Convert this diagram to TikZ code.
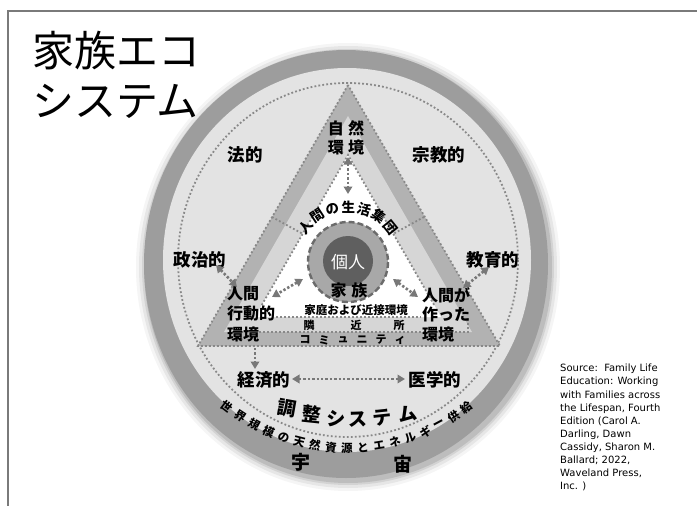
\documentclass[tikz,border=0pt]{standalone}
\usepackage{fontspec}
\newfontfamily\jp{Noto Sans CJK JP}
\newfontfamily\srcfont{DejaVu Sans}
\usetikzlibrary{arrows.meta}
\definecolor{ringgray}{HTML}{9D9D9D}
\definecolor{lightbg}{HTML}{E3E3E3}
\definecolor{tmed}{HTML}{B2B2B2}
\definecolor{tlight}{HTML}{D6D6D6}
\definecolor{dotgray}{HTML}{888888}
\definecolor{arrgray}{HTML}{787878}
\definecolor{famring}{HTML}{A8A8A8}
\definecolor{indiv}{HTML}{5F5F5F}
\definecolor{framegray}{HTML}{7A7A7A}
\begin{document}
\begin{tikzpicture}[x=1pt,y=-1pt,
  dotln/.style={draw=dotgray,line width=1.8pt,dash pattern=on 1.8pt off 2.2pt},
  darr/.style={draw=arrgray,line width=2.6pt,dash pattern=on 2.4pt off 2pt,
    {Triangle[length=7.5pt,width=8.5pt]}-{Triangle[length=7.5pt,width=8.5pt]}},
  sarr/.style={draw=arrgray,line width=2.6pt,dash pattern=on 2.4pt off 2pt,
    -{Triangle[length=7.5pt,width=8.5pt]}},
  lab/.style={inner sep=0pt,font=\jp\bfseries\fontsize{17.5}{17.5}\selectfont},
  mid/.style={inner sep=0pt,font=\jp\bfseries\fontsize{16}{16}\selectfont},
  small/.style={inner sep=0pt,font=\jp\bfseries\fontsize{11.5}{11.5}\selectfont},
  tiny/.style={inner sep=0pt,font=\jp\bfseries\fontsize{11}{11}\selectfont},
  arcch/.style={inner sep=0pt,font=\jp\bfseries\fontsize{13.5}{13.5}\selectfont},
  wch/.style={inner sep=0pt,font=\jp\bfseries\fontsize{11.5}{11.5}\selectfont},
  chou/.style={inner sep=0pt,font=\jp\bfseries\fontsize{19}{19}\selectfont},
  titlef/.style={inner sep=0pt,anchor=west,font=\jp\fontsize{42}{42}\selectfont},
]
\useasboundingbox (0,0) rectangle (697,506);
\fill[white] (0,0) rectangle (697,506);
% frame
\draw[framegray,line width=1.6pt] (8,530) -- (8,11) -- (720,11);

% soft shadow
\foreach \k/\op in {10/0.04,7/0.06,4/0.08,2/0.1}
  \fill[black,opacity=\op] (348,267) ellipse [x radius={202+\k}, y radius={214+\k}];
% ring and inner field
\fill[ringgray] (346,264) ellipse [x radius=202, y radius=214];
\fill[lightbg] (347,260) ellipse [x radius=184, y radius=192];
\draw[dotln] (348,260) ellipse [x radius=170, y radius=177];

% triangles
\coordinate (A1) at (348,85);  \coordinate (L1) at (198,346); \coordinate (R1) at (500,346);
\coordinate (A2) at (348,116); \coordinate (L2) at (224,332); \coordinate (R2) at (472,332);
\coordinate (A3) at (348,155); \coordinate (L3) at (255,317); \coordinate (R3) at (441,317);
\fill[tmed] (A1) -- (L1) -- (R1) -- cycle;
\fill[tlight] (A2) -- (L2) -- (R2) -- cycle;
\fill[white] (A3) -- (L3) -- (R3) -- cycle;
\draw[dotln] (A1) -- (L1) -- (R1) -- cycle;
\coordinate (L3e) at (261.8,305); \coordinate (R3e) at (434.2,305);
\draw[dotln] (L3e) -- (A3) -- (R3e);
\coordinate (b1l) at (276,317); \coordinate (b1r) at (421,317);
\draw[dotln] (b1l) -- (b1r);
\coordinate (b2l) at (259,332); \coordinate (b2r) at (468,332); \coordinate (b2t) at (468,318);
\draw[dotln] (b2l) -- (b2r) -- (b2t);
% separators
\coordinate (s1a) at (272,217); \coordinate (s1b) at (303,234);
\coordinate (s2a) at (424,217); \coordinate (s2b) at (393,234);
\draw[dotln] (s1a) -- (s1b);
\draw[dotln] (s2a) -- (s2b);

% family and individual
\fill[famring] (348,262) circle [radius=40];
\draw[draw=black!58,line width=2.4pt,dash pattern=on 6pt off 3pt] (348,262) circle [radius=40];
\fill[indiv] (348,261) circle [radius=25];
\node[inner sep=0pt,text=white,font=\jp\fontsize{17}{17}\selectfont] (kojin) at (348,262) {個人};

% title
\node[titlef] (t1) at (32,51) {家族エコ};
\node[titlef] (t2) at (32,101) {システム};

% labels
\node[mid] (sz1) at (346,128) {自\hspace{4.5pt}然};
\node[mid] (sz2) at (346,147) {環\hspace{4.5pt}境};
\node[lab] (hou) at (245,155) {法的};
\node[lab] (shu) at (439,155) {宗教的};
\node[lab] (sei) at (200,260) {政治的};
\node[lab] (kyo) at (493,260) {教育的};
\node[mid,anchor=west] (hl1) at (227,294) {人間};
\node[mid,anchor=west] (hl2) at (227,313) {行動的};
\node[mid,anchor=west] (hl3) at (227,334) {環境};
\node[mid,anchor=west] (hr1) at (422,295) {人間が};
\node[mid,anchor=west] (hr2) at (422,314) {作った};
\node[mid,anchor=west] (hr3) at (422,334) {環境};
\node[mid] (kazoku) at (349,290) {家\hspace{5pt}族};
\node[small] (katei) at (356,310) {家庭および近接環境};
\node[tiny] (rin1) at (309,325) {隣};
\node[tiny] (rin2) at (356,325) {近};
\node[tiny] (rin3) at (399,325) {所};
\foreach \ch [count=\i] in {コ,ミ,ュ,ニ,テ,ィ}{
  \pgfmathsetmacro\px{305+(\i-1)*19}
  \node[tiny] (com\i) at (\px,340) {\ch};
}
\node[lab] (kei) at (264,380) {経済的};
\node[lab] (iga) at (435,380) {医学的};
\node[chou,rotate=-10] (c1) at (287,408) {調};
\node[chou,rotate=-6] (c2) at (312,414) {整};
\node[chou,rotate=-2] (c3) at (336,419) {シ};
\node[chou,rotate=2] (c4) at (358,420) {ス};
\node[chou,rotate=6] (c5) at (382,418) {テ};
\node[chou,rotate=10] (c6) at (408,414) {ム};
\node[chou] (u1) at (301,462) {宇};
\node[chou] (u2) at (403,464) {宙};

% arc texts
\foreach \ch [count=\i] in {人,間,の,生,活,集,団}{
  \pgfmathsetmacro\ang{140-(\i-1)*16.83}
  \pgfmathsetmacro\px{348+55*cos(\ang)}
  \pgfmathsetmacro\py{262-55*sin(\ang)}
  \node[arcch,rotate=\ang-90] (g\i) at (\px,\py) {\ch};
}
\foreach \ch [count=\i] in {世,界,規,模,の,天,然,資,源,と,エ,ネ,ル,ギ,ー,供,給}{
  \pgfmathsetmacro\ang{232.3+(\i-1)*4.71}
  \pgfmathsetmacro\px{347+196*cos(\ang)}
  \pgfmathsetmacro\py{252-196*sin(\ang)}
  \node[wch,rotate=\ang+90] (w\i) at (\px,\py) {\ch};
}

% arrows
\coordinate (a1) at (348,157); \coordinate (a2) at (348,194);
\coordinate (b1) at (303,279); \coordinate (b2) at (272,297);
\coordinate (c1a) at (393,279); \coordinate (c2a) at (418,297);
\coordinate (d1) at (216,265); \coordinate (d2) at (237,287);
\coordinate (e1) at (489,267); \coordinate (e2) at (463,288);
\coordinate (f1) at (255,348); \coordinate (f2) at (255,369);
\coordinate (k1) at (292,379); \coordinate (k2) at (405,379);
\draw[darr] (a1) -- (a2);
\draw[darr] (b1) -- (b2);
\draw[darr] (c1a) -- (c2a);
\draw[darr] (d1) -- (d2);
\draw[darr] (e1) -- (e2);
\draw[sarr] (f1) -- (f2);
\draw[darr] (k1) -- (k2);

% source
\node[anchor=north west,inner sep=0pt,align=left,font=\srcfont\fontsize{10}{13.1}\selectfont] (src) at (560,364)
 {Source:\ \ Family Life\\Education: Working\\with Families across\\the Lifespan, Fourth\\Edition (Carol A.\\Darling, Dawn\\Cassidy, Sharon M.\\Ballard; 2022,\\Waveland Press,\\Inc. )};
\end{tikzpicture}
\end{document}
